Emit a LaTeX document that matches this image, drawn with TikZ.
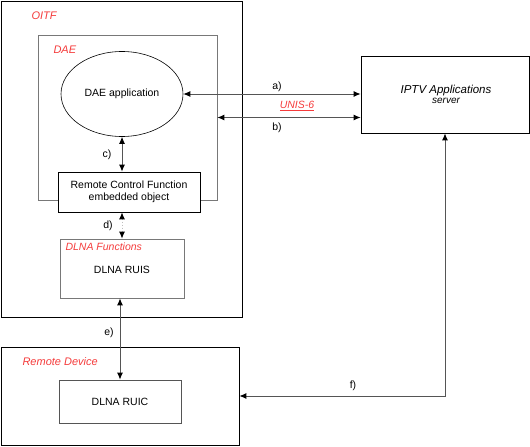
\documentclass[tikz,border=0pt]{standalone}
\usepackage{fontspec}
\setmainfont{Liberation Sans}
\usepackage{tikz}
\usetikzlibrary{arrows.meta, shapes.geometric}
\definecolor{labelred}{RGB}{245,60,60}
\definecolor{linegray}{RGB}{85,85,85}
\definecolor{boxgray}{RGB}{120,120,120}
\definecolor{dotgray}{RGB}{190,190,190}

\begin{document}
\begin{tikzpicture}[x=1pt, y=-1pt,
    >={Latex[length=7pt,width=6pt,color=black]},
    box/.style={draw, fill=white, inner sep=0pt},
    conn/.style={<->, linegray, line width=0.9pt},
    redlabel/.style={anchor=west, text=labelred, font=\fontsize{11}{13}\selectfont\itshape},
    txt/.style={font=\fontsize{10.5}{12.5}\selectfont, align=center}]
    \useasboundingbox (0,0) rectangle (530,447);

    % Kutia OITF
    \node[box, line width=0.8pt, minimum width=241pt, minimum height=316pt] (oitf) at (121.5,159) {};
    \node[redlabel] (oitflbl) at (28,16) {OITF};

    % Kutia DAE
    \node[box, draw=boxgray, line width=0.8pt, minimum width=179pt, minimum height=165pt] (dae) at (127.5,117.5) {};
    \node[redlabel] (daelbl) at (50,50) {DAE};

    % Aplikacioni
    \node[draw, ellipse, line width=0.6pt, minimum width=122pt, minimum height=85pt, txt] (app) at (122,94) {DAE application};

    % Remote Control Function
    \node[box, line width=0.8pt, minimum width=142pt, minimum height=40pt, txt] (rcf) at (129,192) {Remote Control Function\\embedded object};

    % DLNA Functions
    \node[box, draw=boxgray, line width=0.8pt, minimum width=124pt, minimum height=59pt] (dlnaf) at (122,268.5) {};
    \node[redlabel, font=\fontsize{10.5}{12}\selectfont\itshape] (dlnaflbl) at (62,247) {DLNA Functions};
    \node[txt] (ruis) at (122,270) {DLNA RUIS};

    % Serveri IPTV
    \node[box, line width=0.8pt, minimum width=168pt, minimum height=77pt] (iptv) at (445,94.5) {};
    \node[align=center, font=\itshape] (iptvlbl) at (446,94) {{\fontsize{11.5}{13}\selectfont IPTV Applications}\\[-2pt]{\fontsize{10}{12}\selectfont server}};

    % Remote Device
    \node[box, line width=0.8pt, minimum width=238pt, minimum height=98pt] (remote) at (120,396) {};
    \node[redlabel] (remotelbl) at (19,362) {Remote Device};
    \node[box, draw=linegray, line width=0.8pt, minimum width=122pt, minimum height=43pt, txt] (ruic) at (120,401.5) {DLNA RUIC};

    % Shigjetat
    \draw[conn] (app.east) -- (app.east -| iptv.west);
    \draw[conn] (dae.east) -- (dae.east -| iptv.west);
    \draw[conn] (app.south) -- (rcf.north -| app.south);
    \draw[<->, dotgray, dotted, line width=0.9pt] (rcf.south -| dlnaf.north) -- (dlnaf.north);
    \draw[conn] (dlnaf.south -| ruic.north) -- (ruic.north);
    \draw[conn] (iptv.south) |- (remote.east);

    % Etiketat
    \node[txt] (albl) at (277,87) {a)};
    \node[txt] (blbl) at (277,128) {b)};
    \node[text=labelred, font=\fontsize{10.5}{12}\selectfont\itshape] (unis) at (297,106) {\underline{UNIS-6}};
    \node[txt] (clbl) at (107,155) {c)};
    \node[txt] (dlbl) at (108,226) {d)};
    \node[txt] (elbl) at (109,333) {e)};
    \node[txt] (flbl) at (353,386) {f)};
\end{tikzpicture}
\end{document}
